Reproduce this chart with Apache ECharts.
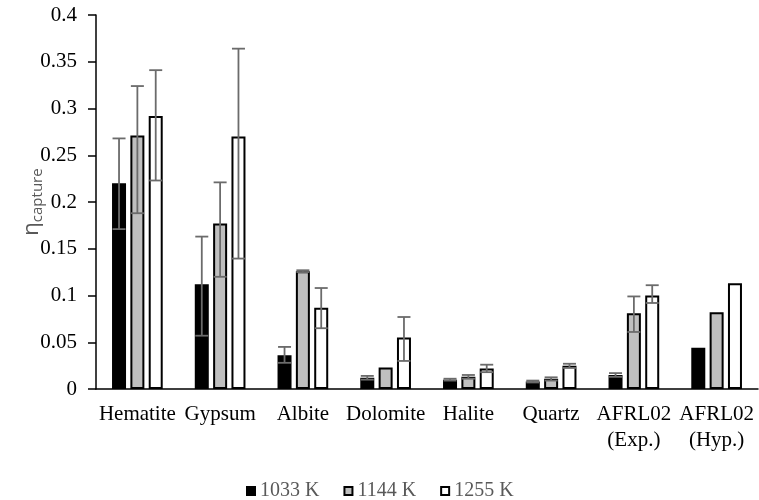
<!DOCTYPE html>
<html>
<head>
<meta charset="utf-8">
<script src="https://cdn.jsdelivr.net/npm/echarts@6/dist/echarts.min.js"></script>
<style>html,body{margin:0;padding:0;background:#fff}#c{width:759px;height:500px}</style>
</head>
<body>
<div id="c"></div>
<script>
var categories = ['Hematite', 'Gypsum', 'Albite', 'Dolomite', 'Halite', 'Quartz', 'AFRL02\n(Exp.)', 'AFRL02\n(Hyp.)'];
var seriesNames = ['1033 K', '1144 K', '1255 K'];
var k1033 = [0.220, 0.112, 0.036, 0.012, 0.010, 0.008, 0.015, 0.044];
var k1144 = [0.271, 0.177, 0.126, 0.023, 0.013, 0.011, 0.081, 0.082];
var k1255 = [0.292, 0.270, 0.087, 0.055, 0.022, 0.025, 0.100, 0.113];
// error bar ends (low, high)
var k1033Low  = [0.171, 0.057, 0.028, 0.010, 0.009, 0.007, 0.013, null];
var k1033High = [0.268, 0.163, 0.045, 0.014, 0.011, 0.009, 0.017, null];
var k1144Low  = [0.188, 0.120, 0.125, null, 0.011, 0.009, 0.061, null];
var k1144High = [0.324, 0.221, 0.127, null, 0.015, 0.0125, 0.099, null];
var k1255Low  = [0.223, 0.1395, 0.065, 0.030, 0.018, 0.0225, 0.092, null];
var k1255High = [0.341, 0.364, 0.108, 0.077, 0.026, 0.027, 0.111, null];
var yTicks = [0, 0.05, 0.1, 0.15, 0.2, 0.25, 0.3, 0.35, 0.4];

var values = [k1033, k1144, k1255];
var lows = [k1033Low, k1144Low, k1255Low];
var highs = [k1033High, k1144High, k1255High];
var colors = ['#000000', '#bfbfbf', '#ffffff'];
var BAR_W = 14, BAR_GAP = 0.31;
var SERIF = "'Times New Roman', 'Liberation Serif', serif";

var chart = echarts.init(document.getElementById('c'), null, {renderer: 'canvas'});

var series = [];
seriesNames.forEach(function (n, i) {
  series.push({
    name: n, type: 'bar', data: values[i], barWidth: BAR_W, barGap: (BAR_GAP * 100) + '%',
    itemStyle: {color: colors[i], borderColor: '#000', borderWidth: 2},
    z: 2
  });
});
seriesNames.forEach(function (n, i) {
  var data = categories.map(function (c, j) { return [j, lows[i][j], highs[i][j]]; })
    .filter(function (d) { return d[1] != null; });
  series.push({
    type: 'custom', name: n + ' err', data: data, z: 5, silent: true,
    encode: {x: 0, y: [1, 2]},
    renderItem: function (params, api) {
      var c = api.value(0);
      var lo = api.coord([c, api.value(1)]);
      var hi = api.coord([c, api.value(2)]);
      var off = (i - 1) * BAR_W * (1 + BAR_GAP);
      var x = lo[0] + off;
      var hw = 6.5;
      var st = {stroke: '#6b6b6b', lineWidth: 1.8, fill: null};
      return {type: 'group', children: [
        {type: 'line', shape: {x1: x, y1: lo[1], x2: x, y2: hi[1]}, style: st},
        {type: 'line', shape: {x1: x - hw, y1: hi[1], x2: x + hw, y2: hi[1]}, style: st},
        {type: 'line', shape: {x1: x - hw, y1: lo[1], x2: x + hw, y2: lo[1]}, style: st}
      ]};
    }
  });
});

chart.setOption({
  animation: false,
  backgroundColor: '#fff',
  grid: {left: 96, right: 1, top: 15, bottom: 111, containLabel: false, outerBoundsMode: 'none'},
  legend: {
    data: seriesNames, left: 241, top: 476, icon: 'rect', itemWidth: 8, itemHeight: 8, itemGap: 24,
    textStyle: {fontFamily: SERIF, fontSize: 20, color: '#595959'}
  },
  xAxis: {
    type: 'category', data: categories,
    axisLine: {lineStyle: {color: '#000', width: 1.5}},
    axisTick: {show: false},
    axisLabel: {interval: 0, color: '#000', fontFamily: SERIF, fontSize: 21, lineHeight: 26, margin: 12}
  },
  yAxis: {
    type: 'value', min: 0, max: 0.4, interval: 0.05,
    name: '{a|η}{b|capture}', nameLocation: 'middle', nameRotate: 90, nameGap: 51, nameMoveOverlap: false,
    nameTextStyle: {
      rich: {
        a: {fontFamily: 'Open Sans', fontSize: 22, color: '#595959', lineHeight: 26, verticalAlign: 'middle'},
        b: {fontFamily: 'Open Sans', fontSize: 15, color: '#595959', lineHeight: 26, verticalAlign: 'bottom', padding: [5, 0, 0, 0]}
      }
    },
    splitLine: {show: false},
    axisLine: {show: true, lineStyle: {color: '#000', width: 1.5}},
    axisTick: {show: true, length: 8, lineStyle: {color: '#000', width: 1.5}},
    axisLabel: {
      color: '#000', fontFamily: SERIF, fontSize: 21, margin: 19,
      formatter: function (v) { var s = String(Math.round(v * 1000) / 1000); return yTicks.indexOf(Number(s)) >= 0 ? s : ''; }
    }
  },
  series: series
});
</script>
</body>
</html>
